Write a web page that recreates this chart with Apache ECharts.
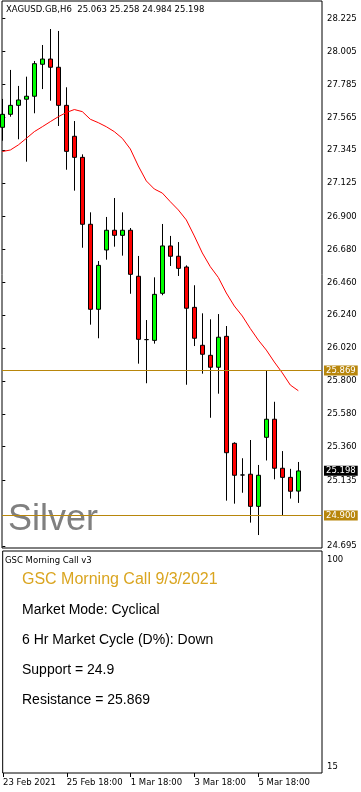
<!DOCTYPE html>
<html><head><meta charset="utf-8">
<script src="https://cdn.jsdelivr.net/npm/echarts@6/dist/echarts.min.js"></script>
<style>html,body{margin:0;padding:0;background:#fff}#c{width:361px;height:792px}</style>
</head><body><div id="c"></div>
<script>
const symbolName = 'XAGUSD.GB,H6';
const opens  = [27.498,27.585,27.645,27.686,27.706,27.920,27.955,27.900,27.645,27.438,27.297,26.849,26.280,26.677,26.809,26.775,26.809,26.501,26.077,26.072,26.387,26.704,26.635,26.563,26.293,26.039,25.972,25.892,26.099,25.383,25.171,25.176,24.961,25.423,25.544,25.216,25.155,25.063];
const highs  = [27.688,27.882,27.775,27.837,27.942,28.049,28.156,28.143,27.766,27.540,27.317,26.929,26.603,26.898,27.025,26.929,26.824,26.637,26.208,26.494,26.851,26.771,26.730,26.574,26.441,26.253,26.213,26.248,26.168,25.390,25.283,25.405,25.238,25.869,25.661,25.331,25.212,25.258];
const lows   = [27.408,27.569,27.418,27.268,27.592,27.754,27.676,27.507,27.214,27.074,26.692,26.177,26.086,26.612,26.699,26.639,26.384,25.916,25.785,26.050,26.374,26.570,26.503,25.775,26.034,25.849,25.554,25.715,24.999,24.979,25.052,24.852,24.769,25.268,25.142,24.900,25.013,24.984];
const closes = [27.585,27.645,27.681,27.706,27.924,27.955,27.900,27.645,27.337,27.297,26.849,26.280,26.574,26.809,26.775,26.809,26.514,26.079,26.077,26.380,26.704,26.635,26.554,26.287,26.086,25.979,25.892,26.093,25.320,25.169,25.171,24.961,25.169,25.544,25.216,25.155,25.062,25.198];
const maValues = [27.336,27.346,27.380,27.424,27.469,27.502,27.536,27.569,27.597,27.617,27.603,27.552,27.529,27.502,27.469,27.424,27.353,27.239,27.139,27.085,27.058,27.000,26.945,26.878,26.771,26.657,26.565,26.493,26.389,26.302,26.235,26.151,26.074,26.007,25.927,25.854,25.773,25.735];
const yTickLabels = ['28.225','28.005','27.785','27.565','27.345','27.125','26.900','26.680','26.460','26.240','26.020','25.800','25.580','25.360','25.135','24.695'];
const xTickIndex = [0,8,16,24,32];
const xTickLabels = ['23 Feb 2021','25 Feb 18:00','1 Mar 18:00','3 Mar 18:00','5 Mar 18:00'];
const resistance = 25.869;
const support = 24.9;
const lastPrice = 25.198;
const subTickValues = [15, 100];
const watermark = 'Silver';
const panelTitle = 'GSC Morning Call v3';
const infoLines = ['GSC Morning Call 9/3/2021','Market Mode: Cyclical','6 Hr Market Cycle (D%): Down','Support = 24.9','Resistance = 25.869'];

const SMALL = 'DejaVu Sans';
const last = opens.length - 1;
const header = symbolName + '  ' + [opens[last], highs[last], lows[last], closes[last]].map(v => v.toFixed(3)).join(' ');
const yTickValues = yTickLabels.map(Number);

const chart = echarts.init(document.getElementById('c'), null, {renderer: 'canvas'});
const lbl = (bg, value) => ({
  show: true, position: 'end', distance: 2,
  formatter: () => value.toFixed(3),
  backgroundColor: bg, color: '#fff', padding: [1, 2, 0, 2],
  fontFamily: SMALL, fontSize: 8.5
});
const infoY = [580, 610, 640, 670, 700];
const graphics = [
  {type: 'text', x: 6, y: 10, style: {text: header, font: '8.5px "DejaVu Sans"', fill: '#000', verticalAlign: 'middle'}},
  {type: 'text', x: 8, y: 520, z: 1, style: {text: watermark, font: '36px "Liberation Sans"', fill: '#808080', verticalAlign: 'middle'}},
  {type: 'text', x: 5, y: 560.5, style: {text: panelTitle, font: '8.5px "DejaVu Sans"', fill: '#000', verticalAlign: 'middle'}}
];
infoLines.forEach((t, i) => graphics.push({
  type: 'text', x: 22, y: infoY[i],
  style: {text: t, font: (i === 0 ? '16px' : '14px') + ' "Liberation Sans"', fill: i === 0 ? '#DAA520' : '#000', verticalAlign: 'middle'}
}));

chart.setOption({
  animation: false,
  backgroundColor: '#fff',
  grid: [
    {left: 2, top: 1, width: 320, height: 547, show: true, borderColor: '#000', borderWidth: 1},
    {left: 2, top: 551, width: 320, height: 222, show: true, borderColor: '#000', borderWidth: 1}
  ],
  xAxis: [
    {gridIndex: 0, type: 'value', min: -0.04, max: 39.96, show: false},
    {gridIndex: 1, type: 'value', min: -0.04, max: 39.96,
     axisLine: {show: false}, splitLine: {show: false},
     axisTick: {show: true, customValues: xTickIndex, length: 4, lineStyle: {color: '#000'}},
     axisLabel: {customValues: xTickIndex, formatter: v => xTickLabels[xTickIndex.indexOf(v)] || '', align: 'left', margin: 5,
                 fontFamily: SMALL, fontSize: 8.5, color: '#000'}}
  ],
  yAxis: [
    {gridIndex: 0, type: 'value', position: 'right', min: 24.6822, max: 28.3435,
     splitLine: {show: false}, axisLine: {show: false},
     axisTick: {show: true, customValues: yTickValues, length: 3, lineStyle: {color: '#000'}},
     axisLabel: {customValues: yTickValues, formatter: v => v.toFixed(3), margin: 5, fontFamily: SMALL, fontSize: 8.5, color: '#000'}},
    {gridIndex: 1, type: 'value', position: 'right', min: 12.54, max: 103.7,
     splitLine: {show: false}, axisLine: {show: false}, axisTick: {show: false},
     axisLabel: {customValues: subTickValues, margin: 5, fontFamily: SMALL, fontSize: 8.5, color: '#000'}}
  ],
  series: [
    {type: 'candlestick', xAxisIndex: 0, yAxisIndex: 0,
     data: opens.map((o, i) => [i, o, closes[i], lows[i], highs[i]]),
     encode: {x: 0, y: [1, 2, 3, 4]},
     barWidth: 5,
     itemStyle: {color: '#00ff00', color0: '#ff0000', borderColor: '#000', borderColor0: '#000', borderColorDoji: '#000', borderWidth: 1},
     markLine: {
       silent: true, symbol: ['none', 'none'], animation: false,
       data: [
         {yAxis: resistance, lineStyle: {color: '#b8860b', width: 1, type: 'solid'}, label: lbl('#b8860b', resistance)},
         {yAxis: support, lineStyle: {color: '#b8860b', width: 1, type: 'solid'}, label: lbl('#b8860b', support)},
         {yAxis: lastPrice, lineStyle: {color: 'rgba(0,0,0,0)', width: 1}, label: lbl('#000', lastPrice)}
       ]
     }},
    {type: 'line', xAxisIndex: 0, yAxisIndex: 0,
     data: maValues.map((v, i) => [i, v]),
     showSymbol: false, lineStyle: {color: '#ff0000', width: 1}, z: 3}
  ],
  graphic: graphics
});
</script></body></html>
